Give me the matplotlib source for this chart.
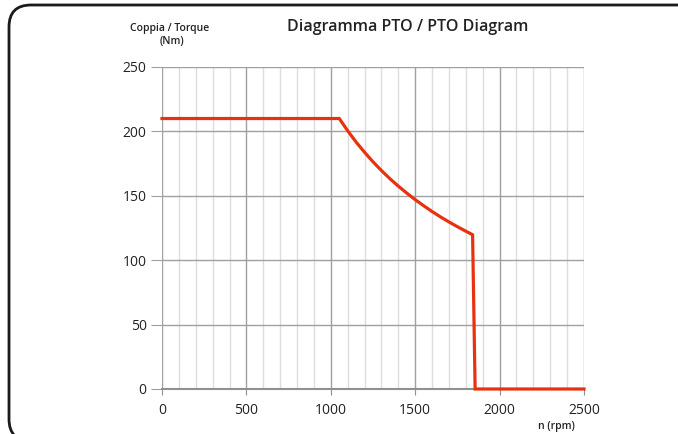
#!/usr/bin/env python3
"""PTO diagram: torque vs. speed curve."""

import numpy as np
import matplotlib
matplotlib.use('Agg')
import matplotlib.pyplot as plt
from matplotlib.patches import FancyBboxPatch

# curve data (rpm, Nm)
rpm_flat = [0, 1050]
torque_flat = [210, 210]
rpm_power = [1050, 1100, 1150, 1200, 1250, 1300, 1350, 1400, 1450, 1500,
             1550, 1600, 1650, 1700, 1750, 1800, 1840]
torque_power = [210, 200.5, 191.7, 183.8, 176.4, 169.6, 163.3, 157.5, 152.1, 147.0,
                142.3, 137.8, 133.6, 129.7, 126.0, 122.5, 119.8]
rpm_drop = [1840, 1855, 2500]
torque_drop = [119.8, 0, 0]

x_ticks = [0, 500, 1000, 1500, 2000, 2500]
y_ticks = [0, 50, 100, 150, 200, 250]

plt.rcParams['font.family'] = ['Open Sans', 'DejaVu Sans']

fig = plt.figure(figsize=(6.78, 4.34), dpi=100)

# rounded frame (in inches), cut off on right and bottom
frame = FancyBboxPatch((0.09, -0.07), 6.95, 4.36,
                       boxstyle='round,pad=0,rounding_size=0.22',
                       transform=fig.dpi_scale_trans, fill=False,
                       edgecolor='#1a1a1a', linewidth=2.0)
fig.patches.append(frame)

ax = fig.add_axes([162 / 678, 1 - 389 / 434, 422 / 678, 322 / 434])

rpm = rpm_flat + rpm_power[1:] + rpm_drop[1:]
torque = torque_flat + torque_power[1:] + torque_drop[1:]
ax.plot(rpm, torque, color='#e8320f', linewidth=2.3, solid_joinstyle='miter', zorder=5, clip_on=False)

ax.set_xlim(0, 2500)
ax.set_ylim(0, 250)
ax.set_xticks(x_ticks)
ax.set_yticks(y_ticks)
ax.set_xticks(np.arange(0, 2501, 100), minor=True)

ax.grid(which='minor', axis='x', color='#dddddd', linewidth=1.0)
ax.grid(which='major', axis='x', color='#a0a0a0', linewidth=1.0)
ax.grid(which='major', axis='y', color='#a0a0a0', linewidth=1.0)
ax.set_axisbelow(True)

for s in ['top', 'right', 'left']:
    ax.spines[s].set_visible(False)
ax.spines['bottom'].set_color('#909090')
ax.spines['bottom'].set_linewidth(1.5)

ax.tick_params(axis='x', which='major', length=4, color='#909090', labelsize=10, pad=6,
               labelcolor='#222222')
ax.tick_params(axis='x', which='minor', length=0)
ax.tick_params(axis='y', length=8, color='#a0a0a0', labelsize=10, pad=3, labelcolor='#222222')

fig.text(408 / 678, 1 - 27 / 434, 'Diagramma PTO / PTO Diagram', ha='center', va='center',
         fontsize=11.5, fontweight='semibold', color='#222222')
fig.text(170 / 678, 1 - 29 / 434, 'Coppia / Torque', ha='center', va='center',
         fontsize=7.5, fontweight='semibold', color='#222222')
fig.text(172 / 678, 1 - 42 / 434, '(Nm)', ha='center', va='center',
         fontsize=7.5, fontweight='semibold', color='#222222')
fig.text(556 / 678, 1 - 426 / 434, 'n (rpm)', ha='center', va='center',
         fontsize=7.5, fontweight='semibold', color='#222222')

fig.savefig('out.png', dpi=100)
